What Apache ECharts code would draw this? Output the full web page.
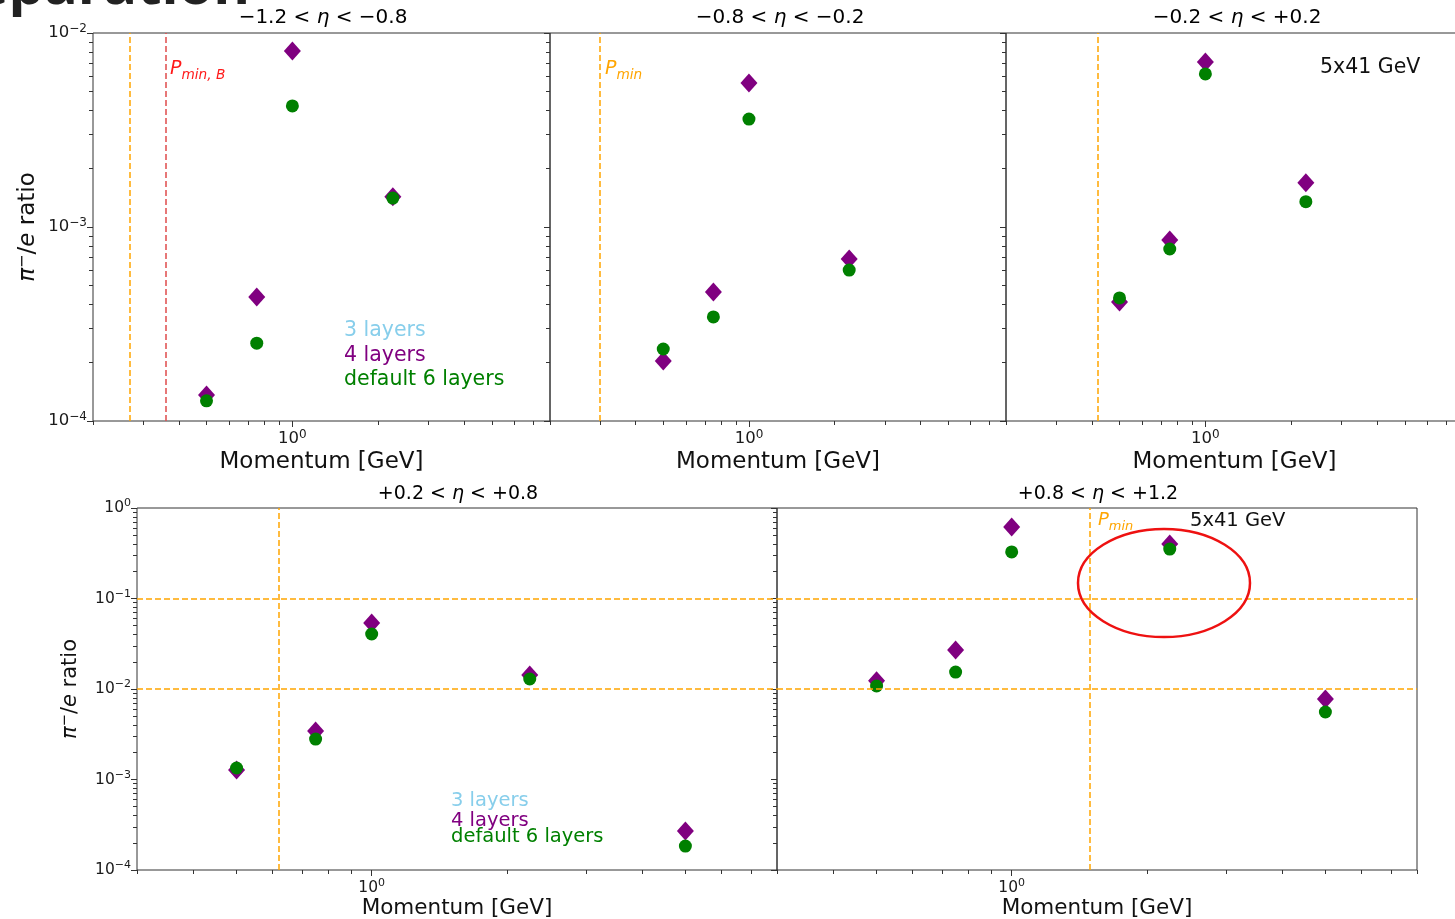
<!DOCTYPE html>
<html><head><meta charset="utf-8">
<script src="https://cdn.jsdelivr.net/npm/echarts@6/dist/echarts.min.js"></script>
<style>html,body{margin:0;padding:0;background:#fff;overflow:hidden}#c{width:1455px;height:919px}</style>
</head><body><div id="c"></div>
<script>
const FONT = '"DejaVu Sans", Verdana, sans-serif';

// ---------- data ----------
const momentaBarrel = [0.5, 0.75, 1.0, 2.25];
const momentaFwd = [0.5, 0.75, 1.0, 2.25, 5.0];
const etaRanges = [['−1.2', '−0.8'], ['−0.8', '−0.2'], ['−0.2', '+0.2'], ['+0.2', '+0.8'], ['+0.8', '+1.2']];
const fourLayers1 = [1.36e-4, 4.36e-4, 8.07e-3, 1.43e-3];
const sixLayers1  = [1.27e-4, 2.52e-4, 4.21e-3, 1.41e-3];
const fourLayers2 = [2.04e-4, 4.62e-4, 5.52e-3, 6.84e-4];
const sixLayers2  = [2.35e-4, 3.44e-4, 3.60e-3, 6.00e-4];
const fourLayers3 = [4.10e-4, 8.57e-4, 7.09e-3, 1.69e-3];
const sixLayers3  = [4.31e-4, 7.70e-4, 6.15e-3, 1.35e-3];
const fourLayers4 = [1.27e-3, 3.43e-3, 5.36e-2, 1.43e-2, 2.70e-4];
const sixLayers4  = [1.34e-3, 2.80e-3, 4.05e-2, 1.29e-2, 1.84e-4];
const fourLayers5 = [1.23e-2, 2.70e-2, 0.617, 0.400, 7.76e-3];
const sixLayers5  = [1.08e-2, 1.54e-2, 0.327, 0.352, 5.57e-3];
const pminValues = [0.272, 0.30, 0.42, 0.621, 1.486];
const pminBValue = 0.363;
const purityLines = [0.1, 0.01];
const legendLabels = ['3 layers', '4 layers', 'default 6 layers'];
const beamLabel = '5x41 GeV';

// ---------- ticks ----------
const xRangeTop = [0.2, 8];
const xRangeBottom = [0.3, 8];
const yRangeTop = [1e-4, 1e-2];
const yRangeBottom = [1e-4, 1];
const majorX = [1];
const minorXTop = [0.2, 0.3, 0.4, 0.5, 0.6, 0.7, 0.8, 0.9, 2, 3, 4, 5, 6, 7, 8];
const minorXBottom = [0.3, 0.4, 0.5, 0.6, 0.7, 0.8, 0.9, 2, 3, 4, 5, 6, 7, 8];
const majorYTop = [1e-4, 1e-3, 1e-2];
const minorYTop = [2e-4, 3e-4, 4e-4, 5e-4, 6e-4, 7e-4, 8e-4, 9e-4, 2e-3, 3e-3, 4e-3, 5e-3, 6e-3, 7e-3, 8e-3, 9e-3];
const majorYBottom = [1e-4, 1e-3, 1e-2, 1e-1, 1];
const minorYBottom = [2e-4, 3e-4, 4e-4, 5e-4, 6e-4, 7e-4, 8e-4, 9e-4,
  2e-3, 3e-3, 4e-3, 5e-3, 6e-3, 7e-3, 8e-3, 9e-3,
  0.02, 0.03, 0.04, 0.05, 0.06, 0.07, 0.08, 0.09,
  0.2, 0.3, 0.4, 0.5, 0.6, 0.7, 0.8, 0.9];

// ---------- layout ----------
const grids = [
  { left: 93, top: 33, width: 457, height: 388 },
  { left: 550, top: 33, width: 456, height: 388 },
  { left: 1006, top: 33, width: 457, height: 388 },
  { left: 137, top: 508, width: 640, height: 362 },
  { left: 777, top: 508, width: 640, height: 362 }
];
const panels = [
  { x: momentaBarrel, four: fourLayers1, six: sixLayers1, xr: xRangeTop, yr: yRangeTop, mx: minorXTop, My: majorYTop, my: minorYTop, labels: true, bottom: false },
  { x: momentaBarrel, four: fourLayers2, six: sixLayers2, xr: xRangeTop, yr: yRangeTop, mx: minorXTop, My: majorYTop, my: minorYTop, labels: false, bottom: false },
  { x: momentaBarrel, four: fourLayers3, six: sixLayers3, xr: xRangeTop, yr: yRangeTop, mx: minorXTop, My: majorYTop, my: minorYTop, labels: false, bottom: false },
  { x: momentaFwd, four: fourLayers4, six: sixLayers4, xr: xRangeBottom, yr: yRangeBottom, mx: minorXBottom, My: majorYBottom, my: minorYBottom, labels: true, bottom: true },
  { x: momentaFwd, four: fourLayers5, six: sixLayers5, xr: xRangeBottom, yr: yRangeBottom, mx: minorXBottom, My: majorYBottom, my: minorYBottom, labels: false, bottom: true }
];

const AX = '#333';
function powFmt(v) {
  const e = Math.round(Math.log10(v));
  return '{b|10}{s|' + (e < 0 ? '−' + (-e) : e) + '}';
}
function tickRich(sz, ssz) {
  return {
    b: { fontFamily: FONT, fontSize: sz, color: '#1a1a1a', lineHeight: 20, verticalAlign: 'middle' },
    s: { fontFamily: FONT, fontSize: ssz, color: '#1a1a1a', lineHeight: 12, verticalAlign: 'top' }
  };
}
const ORANGE = '#ffa500';
const dash = [6, 3];

const xAxis = [], yAxis = [], series = [];
panels.forEach((p, g) => {
  const nameSize = p.bottom ? 21.5 : 23;
  const tsz = p.bottom ? 15.5 : 16.5, ssz = p.bottom ? 11 : 12;
  xAxis.push({
    type: 'log', gridIndex: g, min: p.xr[0], max: p.xr[1], position: 'bottom',
    axisLine: { show: false }, splitLine: { show: false },
    axisTick: { show: true, length: 6, lineStyle: { color: AX, width: 1 }, customValues: majorX },
    axisLabel: { show: true, customValues: majorX, formatter: powFmt, margin: 8, rich: tickRich(tsz, ssz) },
    name: 'Momentum [GeV]', nameLocation: 'middle', nameGap: p.bottom ? 27 : 30,
    nameTextStyle: { fontFamily: FONT, fontSize: nameSize, color: '#111' }
  });
  xAxis.push({
    type: 'log', gridIndex: g, min: p.xr[0], max: p.xr[1], position: 'bottom',
    axisLine: { show: false }, splitLine: { show: false },
    axisTick: { show: true, length: 4, lineStyle: { color: AX, width: 1 }, customValues: p.mx },
    axisLabel: { show: false }
  });
  const yMain = {
    type: 'log', gridIndex: g, min: p.yr[0], max: p.yr[1], position: 'left',
    axisLine: { show: false }, splitLine: { show: false },
    axisTick: { show: true, length: 6, lineStyle: { color: AX, width: 1 }, customValues: p.My },
    axisLabel: { show: p.labels, customValues: p.My, formatter: powFmt, margin: 6, rich: tickRich(tsz, ssz) }
  };
  if (p.labels) {
    yMain.name = '{i|π}{s|−}{n|/}{i|e}{n| ratio}';
    yMain.nameLocation = 'middle';
    yMain.nameRotate = 90;
    yMain.nameGap = p.bottom ? 53 : 52;
    const ns = p.bottom ? 21 : 23;
    yMain.nameTextStyle = {
      rich: {
        i: { fontFamily: FONT, fontSize: ns, fontStyle: 'italic', color: '#111', lineHeight: 26, verticalAlign: 'middle' },
        n: { fontFamily: FONT, fontSize: ns, color: '#111', lineHeight: 26, verticalAlign: 'middle' },
        s: { fontFamily: FONT, fontSize: ns * 0.7, color: '#111', lineHeight: 14, verticalAlign: 'top' }
      }
    };
  }
  yAxis.push(yMain);
  yAxis.push({
    type: 'log', gridIndex: g, min: p.yr[0], max: p.yr[1], position: 'left',
    axisLine: { show: false }, splitLine: { show: false },
    axisTick: { show: true, length: 4, lineStyle: { color: AX, width: 1 }, customValues: p.my },
    axisLabel: { show: false }
  });

  const mlData = [{ xAxis: pminValues[g] }];
  if (g === 0) mlData.push({ xAxis: pminBValue, lineStyle: { color: '#e04b4b', type: dash, width: 1.5 } });
  if (p.bottom) purityLines.forEach(v => mlData.push({ yAxis: v }));

  series.push({
    type: 'scatter', name: legendLabels[1], xAxisIndex: 2 * g, yAxisIndex: 2 * g,
    data: p.x.map((m, i) => [m, p.four[i]]),
    symbol: 'diamond', symbolSize: [17, 19],
    itemStyle: { color: '#800080', opacity: 1 },
    markLine: {
      silent: true, symbol: ['none', 'none'], label: { show: false }, animation: false,
      lineStyle: { color: ORANGE, type: dash, width: 1.5 },
      emphasis: { disabled: true },
      data: mlData
    },
    z: 3
  });
  series.push({
    type: 'scatter', name: legendLabels[2], xAxisIndex: 2 * g, yAxisIndex: 2 * g,
    data: p.x.map((m, i) => [m, p.six[i]]),
    symbol: 'circle', symbolSize: 13,
    itemStyle: { color: '#008000', opacity: 1 },
    z: 4
  });
});

// ---------- text annotations ----------
const titleRich = (sz) => ({
  n: { fontFamily: FONT, fontSize: sz, color: '#111' },
  i: { fontFamily: FONT, fontSize: sz, fontStyle: 'italic', color: '#111' }
});
const graphic = [];
graphic.push({
  type: 'text', x: 250, y: 16,
  style: { text: 'Separation', font: 'bold 56px "Open Sans", "DejaVu Sans", sans-serif', fill: '#222', align: 'right', verticalAlign: 'bottom' }
});
const titleCenters = [[323, 18], [780, 18], [1237, 18], [458, 494], [1098, 494]];
etaRanges.forEach((r, g) => {
  const sz = g < 3 ? 20 : 19;
  graphic.push({
    type: 'text', x: titleCenters[g][0], y: titleCenters[g][1],
    style: { text: '{n|' + r[0] + ' < }{i|η}{n| < ' + r[1] + '}', rich: titleRich(sz), align: 'center', verticalAlign: 'middle' }
  });
});
const legendColors = ['#87ceeb', '#800080', '#008000'];
const legendTop = [[344, 331], [344, 356], [344, 380]];
const legendBottom = [[451, 801], [451, 821], [451, 837]];
legendLabels.forEach((t, i) => {
  graphic.push({ type: 'text', x: legendTop[i][0], y: legendTop[i][1],
    style: { text: t, fontFamily: FONT, fontSize: 20.5, fill: legendColors[i], align: 'left', verticalAlign: 'middle' } });
  graphic.push({ type: 'text', x: legendBottom[i][0], y: legendBottom[i][1],
    style: { text: t, fontFamily: FONT, fontSize: 19.5, fill: legendColors[i], align: 'left', verticalAlign: 'middle' } });
});
graphic.push({ type: 'text', x: 1320, y: 68, style: { text: beamLabel, fontFamily: FONT, fontSize: 20.5, fill: '#111', align: 'left', verticalAlign: 'middle' } });
graphic.push({ type: 'text', x: 1190, y: 521, style: { text: beamLabel, fontFamily: FONT, fontSize: 19.5, fill: '#111', align: 'left', verticalAlign: 'middle' } });
function pminRich(color, sz) {
  return {
    p: { fontFamily: FONT, fontSize: sz, fontStyle: 'italic', fill: color, color: color, lineHeight: 22, verticalAlign: 'top' },
    s: { fontFamily: FONT, fontSize: sz * 0.72, fontStyle: 'italic', fill: color, color: color, lineHeight: 14, verticalAlign: 'bottom' }
  };
}
graphic.push({ type: 'text', x: 170, y: 71, style: { text: '{p|P}{s|min, B}', rich: pminRich('#ff1a1a', 19), align: 'left', verticalAlign: 'middle' } });
graphic.push({ type: 'text', x: 605, y: 71, style: { text: '{p|P}{s|min}', rich: pminRich(ORANGE, 19), align: 'left', verticalAlign: 'middle' } });
graphic.push({ type: 'text', x: 1098, y: 522, style: { text: '{p|P}{s|min}', rich: pminRich(ORANGE, 18), align: 'left', verticalAlign: 'middle' } });
graphic.push({ type: 'ellipse', shape: { cx: 1164, cy: 583, rx: 86, ry: 54 }, style: { fill: 'none', stroke: '#ee1111', lineWidth: 2.5 }, z: 100 });

const chart = echarts.init(document.getElementById('c'), null, { renderer: 'canvas' });
chart.setOption({
  animation: false,
  backgroundColor: '#fff',
  textStyle: { fontFamily: FONT },
  grid: grids.map(g => Object.assign({ show: true, borderColor: AX, borderWidth: 1, backgroundColor: 'transparent', containLabel: false, outerBoundsMode: 'none' }, g)),
  xAxis, yAxis, series, graphic
});
</script></body></html>
